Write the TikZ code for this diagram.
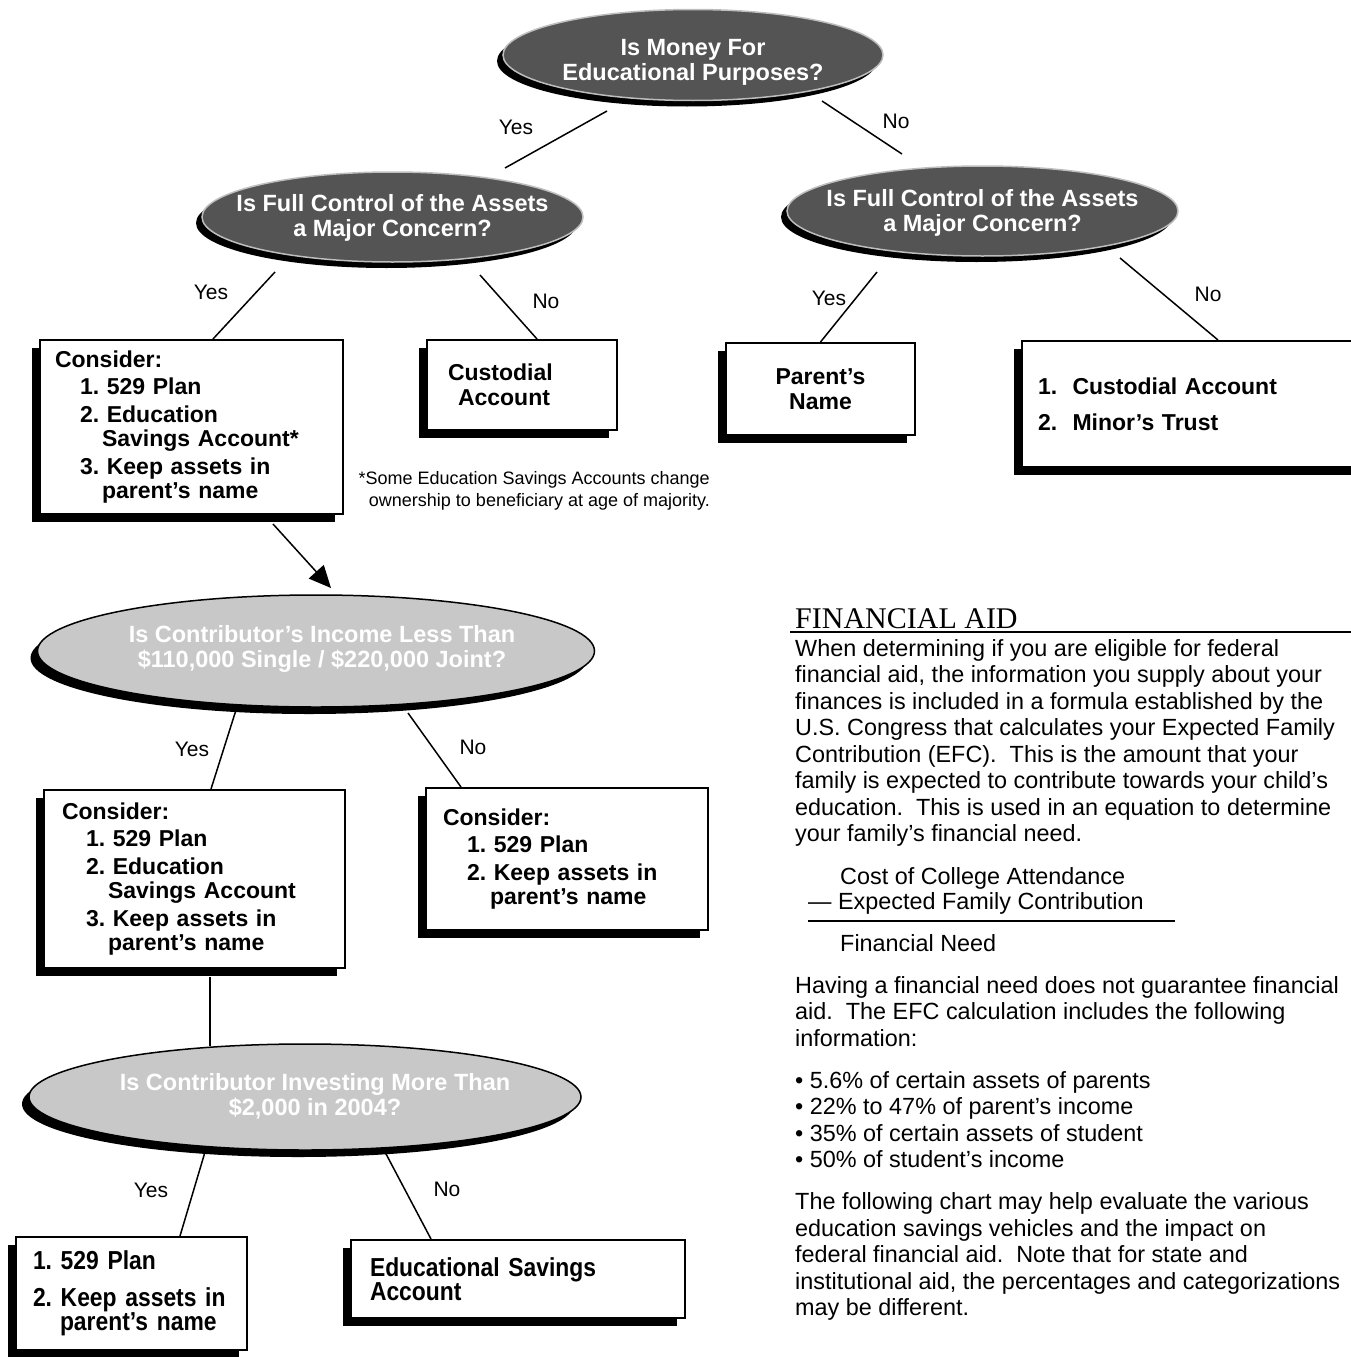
\documentclass[tikz,border=0pt]{standalone}
\usepackage{fontspec}
\setmainfont{Liberation Sans}
\newfontfamily\headfont{Liberation Serif}
\newfontfamily\narrowfont{Liberation Sans}[FakeStretch=0.88]
\usetikzlibrary{shapes.geometric,shadows,calc,arrows.meta}
\definecolor{qdark}{RGB}{84,84,84}
\definecolor{qrim}{RGB}{190,190,190}
\definecolor{qlight}{RGB}{200,200,200}
\frenchspacing
\begin{document}
\begin{tikzpicture}[x=1pt,y=-1pt,
  darkq/.style={ellipse, fill=qdark, draw=qrim, line width=1.5pt, inner sep=0pt,
    drop shadow={shadow xshift=-6pt,shadow yshift=-6pt,opacity=1,fill=black}},
  lightq/.style={ellipse, fill=qlight, draw=black, line width=1.5pt, inner sep=0pt,
    drop shadow={shadow xshift=-7pt,shadow yshift=-7pt,opacity=1,fill=black}},
  qtext/.style={text=white, font=\fontsize{23.5}{25}\selectfont\bfseries, align=center, inner sep=0pt},
  box/.style={draw=black, fill=white, line width=2pt, inner ysep=0pt,
    drop shadow={shadow xshift=-8pt,shadow yshift=-8pt,opacity=1,fill=black}},
  boxfont/.style={font=\fontsize{23}{24.5}\selectfont\bfseries},
  narrowbox/.style={font=\narrowfont\fontsize{26}{24.5}\selectfont\bfseries},
  yn/.style={font=\fontsize{21}{24}\selectfont, inner sep=0pt},
  conn/.style={line width=1.5pt},
  body/.style={font=\fontsize{23.4}{26.5}\selectfont, align=left, inner sep=0pt, anchor=north west},
  single/.style={font=\fontsize{23.4}{26.5}\selectfont, inner sep=0pt, anchor=base west},
]
\useasboundingbox (0,0) rectangle (1351,1357);
\fill[white] (0,0) rectangle (1351,1357);

% ---------- question ellipses ----------
\node[darkq, minimum width=380, minimum height=91] (e0) at (693,55) {};
\node[qtext] (t0) at (693,62) {Is Money For\\Educational Purposes?};

\node[darkq, minimum width=381, minimum height=90] (e1) at (392.5,217) {};
\node[qtext] (t1) at (392.5,218) {Is Full Control of the Assets\\a Major Concern?};

\node[darkq, minimum width=391, minimum height=90] (e2) at (982.5,211) {};
\node[qtext] (t2) at (982.5,213) {Is Full Control of the Assets\\a Major Concern?};

\node[lightq, minimum width=557, minimum height=112] (e3) at (316,651) {};
\node[qtext] (t3) at (322,649) {Is Contributor’s Income Less Than\\\$110,000 Single / \$220,000 Joint?};

\node[lightq, minimum width=552, minimum height=106] (e4) at (305,1097) {};
\node[qtext] (t4) at (315,1096) {Is Contributor Investing More Than\\\$2,000 in 2004?};

% ---------- answer boxes ----------
\node[box, boxfont, minimum width=303, minimum height=174, text width=273, inner xsep=15, align=left] (b1) at (191.5,427)
 {Consider:\\[3pt]\hspace*{25pt}1. 529 Plan\\[3pt]\hspace*{25pt}2. Education\\\hspace*{47pt}Savings Account*\\[3pt]\hspace*{25pt}3. Keep assets in\\\hspace*{47pt}parent’s name};

\node[box, boxfont, minimum width=190, minimum height=90, text width=170, inner xsep=10, align=left] (b2) at (522,385)
 {\hspace*{11pt}Custodial\\\hspace*{21pt}Account};

\node[box, boxfont, minimum width=189, minimum height=92, text width=169, inner xsep=10, align=center] (b3) at (820.5,389)
 {Parent’s\\Name};

\node[box, boxfont, minimum width=338, minimum height=126, text width=306, inner xsep=16, align=left] (b4) at (1191,404)
 {1.\ \ Custodial Account\\[11.5pt]2.\ \ Minor’s Trust};

\node[box, boxfont, minimum width=301, minimum height=178, text width=265, inner xsep=18, align=left] (b5) at (194.5,879)
 {Consider:\\[3pt]\hspace*{24pt}1. 529 Plan\\[3pt]\hspace*{24pt}2. Education\\\hspace*{46pt}Savings Account\\[3pt]\hspace*{24pt}3. Keep assets in\\\hspace*{46pt}parent’s name};

\node[box, boxfont, minimum width=282, minimum height=142, text width=248, inner xsep=17, align=left] (b6) at (567,859)
 {Consider:\\[3pt]\hspace*{24pt}1. 529 Plan\\[3pt]\hspace*{24pt}2. Keep assets in\\\hspace*{47pt}parent’s name};

\node[box, narrowbox, minimum width=231, minimum height=113, text width=197, inner xsep=17, align=left] (b7) at (131.5,1293.5)
 {1. 529 Plan\\[12pt]2. Keep assets in\\\hspace*{27pt}parent’s name};

\node[box, narrowbox, minimum width=334, minimum height=78, text width=296, inner xsep=19, align=left] (b8) at (518,1279)
 {Educational Savings\\Account};

% ---------- footnote ----------
\node[font=\fontsize{18}{22}\selectfont, align=right, inner sep=0pt, anchor=north east] (fn) at (710,471)
 {*Some Education Savings Accounts change\\ownership to beneficiary at age of majority.};

% ---------- connectors ----------
\draw[conn] ($(e0.center)+(-86,56)$) -- ($(e1.center)+(112.5,-49)$);
\draw[conn] ($(e0.center)+(129,46)$) -- ($(e2.center)+(-80.5,-57)$);
\draw[conn] ($(e1.center)+(-117.5,55)$) -- ($(b1.north)+(21.5,0)$);
\draw[conn] ($(e1.center)+(87.5,58)$) -- ($(b2.north)+(15,0)$);
\draw[conn] ($(e2.center)+(-105.5,61)$) -- (b3.north);
\draw[conn] ($(e2.center)+(137.5,47)$) -- ($(b4.north)+(27,0)$);
\draw[conn, -{Triangle[length=22pt,width=20pt]}] ($(b1.south)+(81.5,9)$) -- ($(e3.center)+(15,-63)$);
\draw[conn] ($(e3.center)+(-80,59)$) -- ($(b5.north)+(16.5,0)$);
\draw[conn] ($(e3.center)+(92,62)$) -- ($(b6.north)+(-106,0)$);
\draw[conn] ($(b5.south)+(15.5,8)$) -- ($(e4.center)+(-95,-51)$);
\draw[conn] ($(e4.center)+(-100,55)$) -- ($(b7.north)+(48.5,0)$);
\draw[conn] ($(e4.center)+(80,55)$) -- ($(b8.north)+(-87,0)$);

% ---------- yes / no labels ----------
\node[yn] (l1) at (516,127) {Yes};
\node[yn] (l2) at (896,121) {No};
\node[yn] (l3) at (211,292) {Yes};
\node[yn] (l4) at (546,301) {No};
\node[yn] (l5) at (829,298) {Yes};
\node[yn] (l6) at (1208,294) {No};
\node[yn] (l7) at (192,749) {Yes};
\node[yn] (l8) at (473,747) {No};
\node[yn] (l9) at (151,1190) {Yes};
\node[yn] (l10) at (447,1189) {No};

% ---------- financial aid text ----------
\node[font=\headfont\fontsize{30}{32}\selectfont, anchor=base west, inner sep=0pt] (fa) at (795,628) {FINANCIAL AID};
\draw[line width=2pt] (790,632) -- (1351,632);

\node[body] (p1) at (795,639)
 {When determining if you are eligible for federal\\
  financial aid, the information you supply about your\\
  finances is included in a formula established by the\\
  U.S. Congress that calculates your Expected Family\\
  Contribution (EFC).\ \ This is the amount that your\\
  family is expected to contribute towards your child’s\\
  education.\ \ This is used in an equation to determine\\
  your family’s financial need.};

\node[single] (f1) at (840,884) {Cost of College Attendance};
\node[single] (f2) at (808,909) {— Expected Family Contribution};
\draw[line width=1.5pt] (808,921) -- (1175,921);
\node[single] (f3) at (840,951) {Financial Need};

\node[body] (p2) at (795,976)
 {Having a financial need does not guarantee financial\\
  aid.\ \ The EFC calculation includes the following\\
  information:\\[15.5pt]
  • 5.6\% of certain assets of parents\\
  • 22\% to 47\% of parent’s income\\
  • 35\% of certain assets of student\\
  • 50\% of student’s income\\[15.5pt]
  The following chart may help evaluate the various\\
  education savings vehicles and the impact on\\
  federal financial aid.\ \ Note that for state and\\
  institutional aid, the percentages and categorizations\\
  may be different.};
\end{tikzpicture}
\end{document}
